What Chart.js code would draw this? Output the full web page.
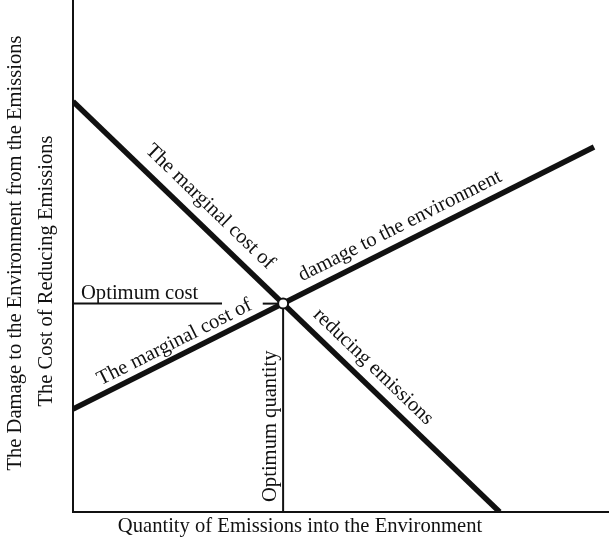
<!DOCTYPE html>
<html>
<head>
<meta charset="utf-8">
<script src="https://cdn.jsdelivr.net/npm/chart.js@4/dist/chart.umd.min.js"></script>
<style>
  body { margin: 0; background: #fff; }
  #wrap { position: relative; width: 609px; height: 543px; }
</style>
</head>
<body>
<div id="wrap"><canvas id="chart"></canvas></div>
<script>
// marginal cost of reducing emissions (falls as emissions grow)
var costX = [0, 79.6];
var costY = [80.2, 0];
// marginal damage to the environment (rises with emissions)
var damageX = [0, 97.2];
var damageY = [20.1, 71.3];
// where the two curves cross
var optimumQuantity = 39.2;
var optimumCost = 40.7;
// guide line for the optimum cost is broken where the label crosses it
var costGuideLeftX = [0, 27.8];
var costGuideRightX = [35.4, 39.2];
var quantityGuideY = [0, 40.7];

var xTitle = 'Quantity of Emissions into the Environment';
var yTitleOuter = 'The Damage to the Environment from the Emissions';
var yTitleInner = 'The Cost of Reducing Emissions';

var ink = '#111';
var serif = '20.6px "Liberation Serif", "Times New Roman", serif';

function pts(xs, ys) {
  var out = [];
  for (var i = 0; i < xs.length; i++) out.push({x: xs[i], y: ys[i]});
  return out;
}
function seg(data, width) {
  return {data: data, showLine: true, borderColor: ink, borderWidth: width,
          pointRadius: 0, clip: 0, fill: false, tension: 0};
}

// text that sits on top of a line, rotated with it
function alongLine(ctx, chart, xs, ys, t, offset, text) {
  var sx = chart.scales.x, sy = chart.scales.y;
  var x0 = sx.getPixelForValue(xs[0]), y0 = sy.getPixelForValue(ys[0]);
  var x1 = sx.getPixelForValue(xs[1]), y1 = sy.getPixelForValue(ys[1]);
  var dx = x1 - x0, dy = y1 - y0, len = Math.hypot(dx, dy);
  var ux = dx / len, uy = dy / len;
  var nx = uy, ny = -ux; // normal pointing above the line
  var px = x0 + ux * len * t + nx * offset;
  var py = y0 + uy * len * t + ny * offset;
  ctx.save();
  ctx.translate(px, py);
  ctx.rotate(Math.atan2(dy, dx));
  ctx.textAlign = 'center';
  ctx.textBaseline = 'middle';
  ctx.fillText(text, 0, 0);
  ctx.restore();
}

var textPlugin = {
  id: 'diagramText',
  afterDraw: function(chart) {
    var ctx = chart.ctx, area = chart.chartArea;
    var sx = chart.scales.x, sy = chart.scales.y;
    ctx.save();
    ctx.fillStyle = ink;
    ctx.strokeStyle = ink;
    ctx.font = serif;

    // axes
    ctx.lineWidth = 2;
    ctx.beginPath();
    ctx.moveTo(area.left, area.top);
    ctx.lineTo(area.left, area.bottom);
    ctx.lineTo(area.right, area.bottom);
    ctx.stroke();

    alongLine(ctx, chart, costX, costY, 0.290, 19, 'The marginal cost of');
    alongLine(ctx, chart, costX, costY, 0.676, 17, 'reducing emissions');
    alongLine(ctx, chart, damageX, damageY, 0.207, 14, 'The marginal cost of');
    alongLine(ctx, chart, damageX, damageY, 0.642, 16.5, 'damage to the environment');

    ctx.textAlign = 'left';
    ctx.textBaseline = 'alphabetic';
    ctx.fillText('Optimum cost', area.left + 8, sy.getPixelForValue(optimumCost) - 5);

    ctx.save();
    ctx.translate(sx.getPixelForValue(optimumQuantity) - 7, area.bottom - 10);
    ctx.rotate(-Math.PI / 2);
    ctx.fillText('Optimum quantity', 0, 0);
    ctx.restore();

    // axis titles
    ctx.textAlign = 'center';
    ctx.fillText(xTitle, 300, 532);

    ctx.save();
    ctx.translate(21, 253);
    ctx.rotate(-Math.PI / 2);
    ctx.fillText(yTitleOuter, 0, 0);
    ctx.restore();

    ctx.save();
    ctx.translate(52, 271);
    ctx.rotate(-Math.PI / 2);
    ctx.fillText(yTitleInner, 0, 0);
    ctx.restore();

    ctx.restore();
  }
};

new Chart(document.getElementById('chart'), {
  type: 'scatter',
  data: {
    datasets: [
      {data: [{x: optimumQuantity, y: optimumCost}], pointRadius: 5,
       pointBackgroundColor: '#fff', pointBorderColor: ink, pointBorderWidth: 2,
       showLine: false},
      seg(pts(costX, costY), 5.5),
      seg(pts(damageX, damageY), 5.5),
      seg(pts(costGuideLeftX, [optimumCost, optimumCost]), 2),
      seg(pts(costGuideRightX, [optimumCost, optimumCost]), 2),
      seg(pts([optimumQuantity, optimumQuantity], quantityGuideY), 2)
    ]
  },
  options: {
    responsive: true,
    maintainAspectRatio: false,
    animation: false,
    layout: {autoPadding: false, padding: {left: 73, right: 0, top: 0, bottom: 31}},
    plugins: {legend: {display: false}, tooltip: {enabled: false}},
    scales: {
      x: {type: 'linear', min: 0, max: 100, display: false},
      y: {type: 'linear', min: 0, max: 100, display: false}
    }
  },
  plugins: [textPlugin]
});
</script>
</body>
</html>
